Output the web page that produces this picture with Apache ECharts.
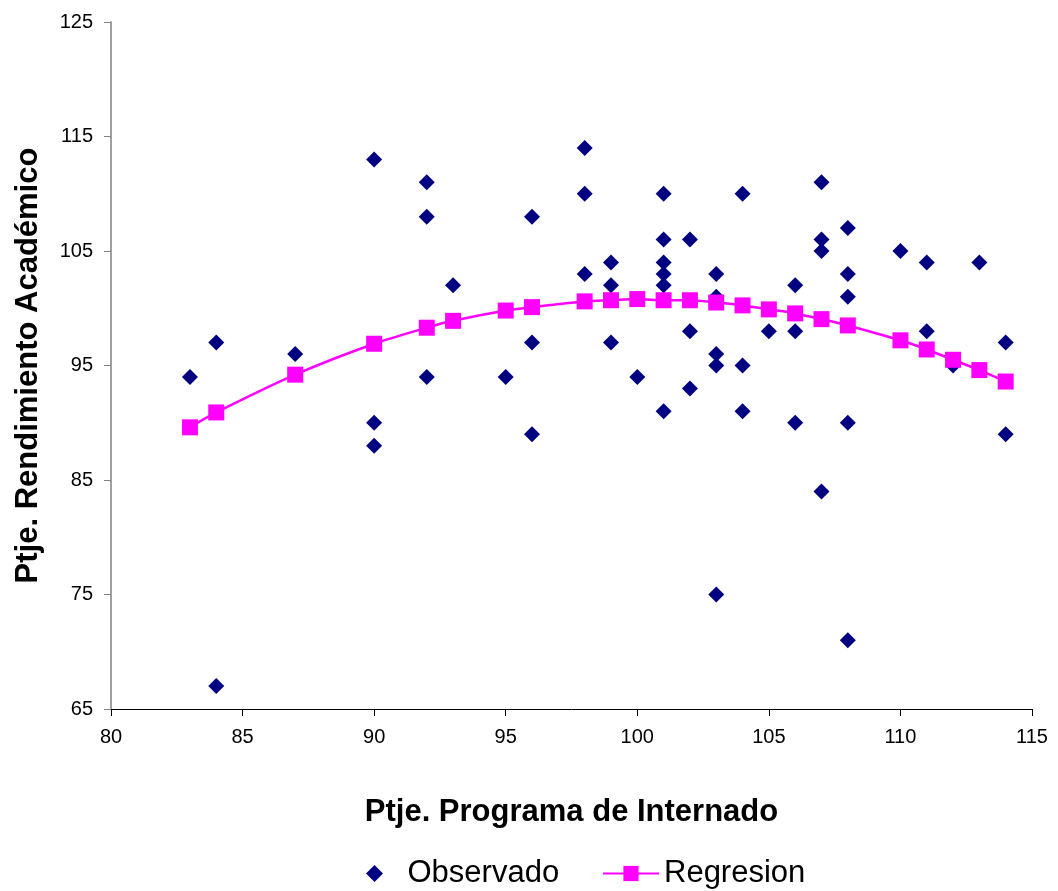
<!DOCTYPE html>
<html>
<head>
<meta charset="utf-8">
<script src="https://cdn.jsdelivr.net/npm/echarts@6/dist/echarts.min.js"></script>
<style>
html,body{margin:0;padding:0;background:#fff;}
#chart{width:1058px;height:891px;}
</style>
</head>
<body>
<div id="chart"></div>
<script>
// Observed points (x, y)
const obsX = [83, 84, 84, 87, 90, 90, 90, 92, 92, 92, 93, 95, 96, 96, 96, 98, 98, 98, 99, 99, 99, 100,
  101, 101, 101, 101, 101, 101, 102, 102, 102, 103, 103, 103, 103, 103, 104, 104, 104, 105,
  106, 106, 106, 107, 107, 107, 107, 108, 108, 108, 108, 108, 110, 111, 111, 112, 113, 114, 114];
const obsY = [94, 97, 67, 96, 113, 90, 88, 111, 108, 94, 102, 94, 108, 97, 89, 114, 110, 103, 104, 102, 97, 94,
  110, 106, 104, 103, 102, 91, 106, 98, 93, 103, 101, 96, 95, 75, 110, 95, 91, 98,
  102, 98, 90, 111, 106, 105, 84, 107, 103, 101, 90, 71, 105, 104, 98, 95, 104, 97, 89];
// Regression curve (x, fitted y)
const regX = [83, 84, 87, 90, 92, 93, 95, 96, 98, 99, 100, 101, 102, 103, 104, 105, 106, 107, 108, 110, 111, 112, 113, 114];
const regY = [89.6, 90.9, 94.2, 96.9, 98.3, 98.9, 99.8, 100.1, 100.6, 100.7, 100.8, 100.7, 100.7, 100.5, 100.25, 99.9, 99.55, 99.05, 98.5, 97.2, 96.4, 95.5, 94.6, 93.6];
// Axis settings
const xMin = 80, xMax = 115, xStep = 5;
const yMin = 65, yMax = 125, yStep = 10;
const seriesNames = ['Observado', 'Regresion'];
const xTitle = 'Ptje. Programa de Internado';
const yTitle = 'Ptje. Rendimiento Académico';

const FONT = "'Liberation Sans', Arial, sans-serif";
const DIAMOND = 'path://M8,0L16,8L8,16L0,8Z';
const chart = echarts.init(document.getElementById('chart'), null, {renderer: 'canvas'});
chart.setOption({
  animation: false,
  backgroundColor: '#ffffff',
  grid: {left: 111, right: 26, top: 22, bottom: 182, containLabel: false},
  legend: [
    {data: [{name: seriesNames[0], icon: DIAMOND}], left: 361, top: 853, itemWidth: 56, itemHeight: 17,
     symbolKeepAspect: true,
     itemStyle: {color: '#000080', opacity: 1},
     textStyle: {fontFamily: FONT, fontSize: 31, color: '#000'}},
    {data: [seriesNames[1]], left: 597, top: 853, itemWidth: 56, itemHeight: 19,
     textStyle: {fontFamily: FONT, fontSize: 31, color: '#000'}}
  ],
  xAxis: {
    type: 'value', min: xMin, max: xMax, interval: xStep,
    name: xTitle, nameLocation: 'middle', nameGap: 88,
    nameTextStyle: {fontFamily: FONT, fontSize: 31, fontWeight: 'bold', color: '#000'},
    axisLine: {show: true, onZero: false, lineStyle: {color: '#000', width: 1}},
    axisTick: {show: true, length: 7, lineStyle: {color: '#000'}},
    axisLabel: {fontFamily: FONT, fontSize: 20, color: '#000', margin: 18},
    splitLine: {show: false}
  },
  yAxis: {
    type: 'value', min: yMin, max: yMax, interval: yStep,
    name: yTitle, nameLocation: 'middle', nameGap: 67,
    nameTextStyle: {fontFamily: FONT, fontSize: 31, fontWeight: 'bold', color: '#000'},
    axisLine: {show: true, onZero: false, lineStyle: {color: '#808080', width: 1.5}},
    axisTick: {show: true, length: 7, lineStyle: {color: '#808080'}},
    axisLabel: {fontFamily: FONT, fontSize: 20, color: '#000', margin: 18},
    splitLine: {show: false}
  },
  series: [
    {
      name: seriesNames[0], type: 'scatter', symbol: 'diamond', symbolSize: 16,
      itemStyle: {color: '#000080', opacity: 1},
      emphasis: {disabled: true},
      data: obsX.map((x, i) => [x, obsY[i]]),
      z: 2
    },
    {
      name: seriesNames[1], type: 'line', symbol: 'rect', symbolSize: 16, showSymbol: true,
      smooth: 0.3,
      lineStyle: {color: '#FF00FF', width: 2.5},
      itemStyle: {color: '#FF00FF', opacity: 1},
      data: regX.map((x, i) => [x, regY[i]]),
      z: 3
    }
  ]
});
</script>
</body>
</html>
